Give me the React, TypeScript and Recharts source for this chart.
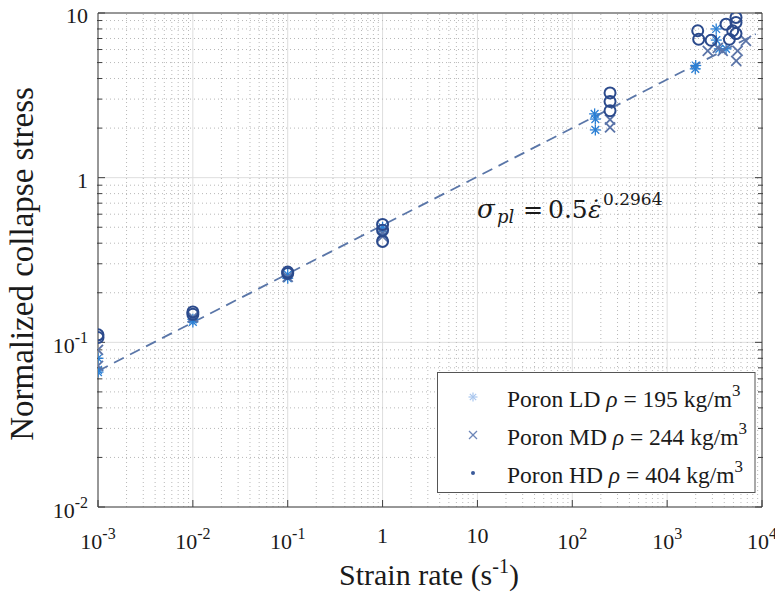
import React from 'react'
import { CartesianGrid, ComposedChart, Line, ReferenceLine, Scatter, XAxis, YAxis } from 'recharts'

// Strain rate (1/s) vs normalized collapse stress
const ldPoints = [
	{ x: 0.001, y: 0.08 }, { x: 0.001, y: 0.068 }, { x: 0.001, y: 0.066 },
	{ x: 0.01, y: 0.133 }, { x: 0.01, y: 0.138 },
	{ x: 0.1, y: 0.245 }, { x: 0.1, y: 0.258 },
	{ x: 1, y: 0.5 }, { x: 1, y: 0.47 },
	{ x: 172, y: 2.44 }, { x: 175, y: 2.27 }, { x: 175, y: 1.95 },
	{ x: 2000, y: 4.8 }, { x: 1980, y: 4.58 },
	{ x: 3290, y: 8.0 }, { x: 3300, y: 6.85 }, { x: 3550, y: 6.06 }, { x: 4180, y: 6.06 },
]
const mdPoints = [
	{ x: 0.001, y: 0.09 }, { x: 0.001, y: 0.072 },
	{ x: 0.01, y: 0.142 },
	{ x: 0.1, y: 0.25 },
	{ x: 1, y: 0.46 }, { x: 1, y: 0.44 },
	{ x: 250, y: 2.25 }, { x: 250, y: 2.02 },
	{ x: 2680, y: 5.89 }, { x: 3420, y: 6.14 }, { x: 3850, y: 5.89 },
	{ x: 5350, y: 5.12 }, { x: 5530, y: 5.89 }, { x: 6770, y: 6.78 },
]
const hdPoints = [
	{ x: 0.001, y: 0.111 }, { x: 0.001, y: 0.107 },
	{ x: 0.01, y: 0.153 }, { x: 0.01, y: 0.148 },
	{ x: 0.1, y: 0.267 }, { x: 0.1, y: 0.262 },
	{ x: 1, y: 0.52 }, { x: 1, y: 0.48 }, { x: 1, y: 0.41 },
	{ x: 250, y: 3.27 }, { x: 250, y: 2.9 }, { x: 250, y: 2.55 },
	{ x: 2100, y: 7.8 }, { x: 2150, y: 6.93 }, { x: 2910, y: 6.83 }, { x: 4180, y: 8.55 },
	{ x: 4530, y: 6.93 }, { x: 4910, y: 7.8 }, { x: 5320, y: 9.4 }, { x: 5320, y: 8.76 }, { x: 5320, y: 7.5 },
]
// power-law fit, endpoints as drawn
const fitPoints = [
	{ x: 0.001, y: 0.067 },
	{ x: 8600, y: 7.45 },
]

const xTicks = [0.001, 0.01, 0.1, 1, 10, 100, 1000, 10000]
const xTickLabels = ['10^-3', '10^-2', '10^-1', '1', '10', '10^2', '10^3', '10^4']
const yTicks = [0.01, 0.1, 1, 10]
const yTickLabels = ['10^-2', '10^-1', '1', '10']
const mantissas = [2, 3, 4, 5, 6, 7, 8, 9]
const xMinor = xTicks.slice(0, -1).flatMap((d) => mantissas.map((m) => m * d))
const yMinor = yTicks.slice(0, -1).flatMap((d) => mantissas.map((m) => m * d))

const legendItems = [
	{ name: 'Poron LD', rho: '195', marker: 'star' },
	{ name: 'Poron MD', rho: '244', marker: 'cross' },
	{ name: 'Poron HD', rho: '404', marker: 'dot' },
]

// the chart covers the whole 783x608 window (body margin cancelled)
const W = 783
const H = 608
const FONT = 'Liberation Serif, serif'
const AXIS = '#404040'
const LD_COLOR = '#2a7fd4'
const MD_COLOR = '#5b74a8'
const HD_COLOR = '#2b4a8c'
const FIT_COLOR = '#5a76a8'
const MINOR_GRID = '#b8b8b8'

function Label({ x, y, text, anchor }: { x: number; y: number; text: string; anchor: 'middle' | 'end' }) {
	const [base, exp] = text.split('^')
	return (
		<text x={x} y={y} textAnchor={anchor} fontFamily={FONT} fontSize={22} fill='#1a1a1a'>
			<tspan>{base}</tspan>
			{exp && (
				<tspan dy={-10} fontSize={16}>
					{exp}
				</tspan>
			)}
		</text>
	)
}

function XTick(props: any) {
	const { x, y, payload } = props
	const text = xTickLabels[xTicks.indexOf(payload.value)] ?? ''
	return <Label x={x} y={y + (text.includes('^') ? 42 : 36)} text={text} anchor='middle' />
}

function YTick(props: any) {
	const { x, y, payload } = props
	const text = yTickLabels[yTicks.indexOf(payload.value)] ?? ''
	return <Label x={x - 10} y={y + (text.includes('^') ? 11 : 10)} text={text} anchor='end' />
}

const noTick = () => <g />

const star = (p: any) => {
	const { cx, cy } = p
	const r = 5.5
	const d = r * 0.707
	return (
		<g stroke={LD_COLOR} strokeWidth={1.3}>
			<line x1={cx - r} y1={cy} x2={cx + r} y2={cy} />
			<line x1={cx} y1={cy - r} x2={cx} y2={cy + r} />
			<line x1={cx - d} y1={cy - d} x2={cx + d} y2={cy + d} />
			<line x1={cx - d} y1={cy + d} x2={cx + d} y2={cy - d} />
		</g>
	)
}

const cross = (p: any) => {
	const { cx, cy } = p
	const r = 5
	return (
		<g stroke={MD_COLOR} strokeWidth={1.8}>
			<line x1={cx - r} y1={cy - r} x2={cx + r} y2={cy + r} />
			<line x1={cx - r} y1={cy + r} x2={cx + r} y2={cy - r} />
		</g>
	)
}

const ring = (p: any) => <circle cx={p.cx} cy={p.cy} r={5.5} fill='none' stroke={HD_COLOR} strokeWidth={2} />

function LegendMarker({ kind, x, y }: { kind: string; x: number; y: number }) {
	if (kind === 'star') {
		const r = 4.5
		const d = r * 0.707
		return (
			<g stroke='#a9c6ee' strokeWidth={1.2}>
				<line x1={x - r} y1={y} x2={x + r} y2={y} />
				<line x1={x} y1={y - r} x2={x} y2={y + r} />
				<line x1={x - d} y1={y - d} x2={x + d} y2={y + d} />
				<line x1={x - d} y1={y + d} x2={x + d} y2={y - d} />
			</g>
		)
	}
	if (kind === 'cross') {
		const r = 4
		return (
			<g stroke='#6d86b8' strokeWidth={1.2}>
				<line x1={x - r} y1={y - r} x2={x + r} y2={y + r} />
				<line x1={x - r} y1={y + r} x2={x + r} y2={y - r} />
			</g>
		)
	}
	return <circle cx={x} cy={y} r={2} fill='#3a5a9a' />
}

const logX = { type: 'number' as const, scale: 'log' as const, domain: [0.001, 10000], allowDataOverflow: true, interval: 0 as const, height: 1, stroke: AXIS }
const logY = { type: 'number' as const, scale: 'log' as const, domain: [0.01, 10], allowDataOverflow: true, interval: 0 as const, width: 1, stroke: AXIS }

export default function App() {
	return (
		<div style={{ position: 'relative', width: W, height: H, margin: -8 }}>
			<ComposedChart width={W} height={H} margin={{ top: 11, right: 19, bottom: 99, left: 96 }}>
				<CartesianGrid xAxisId='x' yAxisId='y' stroke='#dedede' />
				{xMinor.map((v) => (
					<ReferenceLine key={`vx${v}`} xAxisId='x' yAxisId='y' x={v} stroke={MINOR_GRID} strokeDasharray='1 3' />
				))}
				{yMinor.map((v) => (
					<ReferenceLine key={`hy${v}`} xAxisId='x' yAxisId='y' y={v} stroke={MINOR_GRID} strokeDasharray='1 3' />
				))}
				<XAxis {...logX} xAxisId='x' dataKey='x' ticks={xTicks} tickSize={-7} tickMargin={7} tick={XTick} />
				<XAxis {...logX} xAxisId='xm' ticks={xMinor} tickSize={-5} axisLine={false} tick={noTick} />
				<XAxis {...logX} xAxisId='xt' orientation='top' ticks={xTicks} tickSize={-7} tick={noTick} />
				<XAxis {...logX} xAxisId='xtm' orientation='top' ticks={xMinor} tickSize={-5} axisLine={false} tick={noTick} />
				<YAxis {...logY} yAxisId='y' dataKey='y' ticks={yTicks} tickSize={-7} tickMargin={7} tick={YTick} />
				<YAxis {...logY} yAxisId='ym' ticks={yMinor} tickSize={-5} axisLine={false} tick={noTick} />
				<YAxis {...logY} yAxisId='yr' orientation='right' ticks={yTicks} tickSize={-7} tick={noTick} />
				<YAxis {...logY} yAxisId='yrm' orientation='right' ticks={yMinor} tickSize={-5} axisLine={false} tick={noTick} />
				<Line
					xAxisId='x'
					yAxisId='y'
					data={fitPoints}
					dataKey='y'
					type='linear'
					stroke={FIT_COLOR}
					strokeWidth={1.8}
					strokeDasharray='11 7'
					dot={false}
					isAnimationActive={false}
				/>
				<Scatter xAxisId='x' yAxisId='y' data={ldPoints} dataKey='y' shape={star} isAnimationActive={false} />
				<Scatter xAxisId='x' yAxisId='y' data={mdPoints} dataKey='y' shape={cross} isAnimationActive={false} />
				<Scatter xAxisId='x' yAxisId='y' data={hdPoints} dataKey='y' shape={ring} isAnimationActive={false} />
			</ComposedChart>
			<svg
				width={W}
				height={H}
				style={{ position: 'absolute', left: 0, top: 0, pointerEvents: 'none' }}
			>
				<text
					transform='translate(33,264) rotate(-90)'
					textAnchor='middle'
					fontFamily={FONT}
					fontSize={33}
					fill='#1a1a1a'
				>
					Normalized collapse stress
				</text>
				<text x={429} y={585} textAnchor='middle' fontFamily={FONT} fontSize={30} fill='#1a1a1a'>
					<tspan>Strain rate (s</tspan>
					<tspan dy={-12} fontSize={20}>-1</tspan>
					<tspan dy={12}>)</tspan>
				</text>
				<g fontFamily='DejaVu Serif, serif' fill='#1a1a1a'>
					<text x={477} y={218} fontSize={26} fontStyle='italic'>σ</text>
					<text x={497} y={223} fontSize={18} fontStyle='italic'>pl</text>
					<text x={523} y={218} fontSize={24}>=</text>
					<text x={548} y={218} fontSize={25}>0.5</text>
					<text x={588} y={218} fontSize={25} fontStyle='italic'>ε̇</text>
					<text x={603} y={205} fontSize={17}>0.2964</text>
				</g>
				<rect x={437.5} y={372.5} width={317.5} height={120} fill='#fff' stroke='#555' strokeWidth={1} />
				{legendItems.map((item, i) => {
					const cy = 397 + i * 38
					return (
						<g key={item.name}>
							<LegendMarker kind={item.marker} x={473} y={cy} />
							<text x={507} y={cy + 10} fontFamily={FONT} fontSize={23.5} fill='#1a1a1a'>
								<tspan>{item.name} </tspan>
								<tspan fontStyle='italic'>ρ</tspan>
								<tspan> = {item.rho} kg/m</tspan>
								<tspan dy={-11} fontSize={17}>3</tspan>
							</text>
						</g>
					)
				})}
			</svg>
		</div>
	)
}
